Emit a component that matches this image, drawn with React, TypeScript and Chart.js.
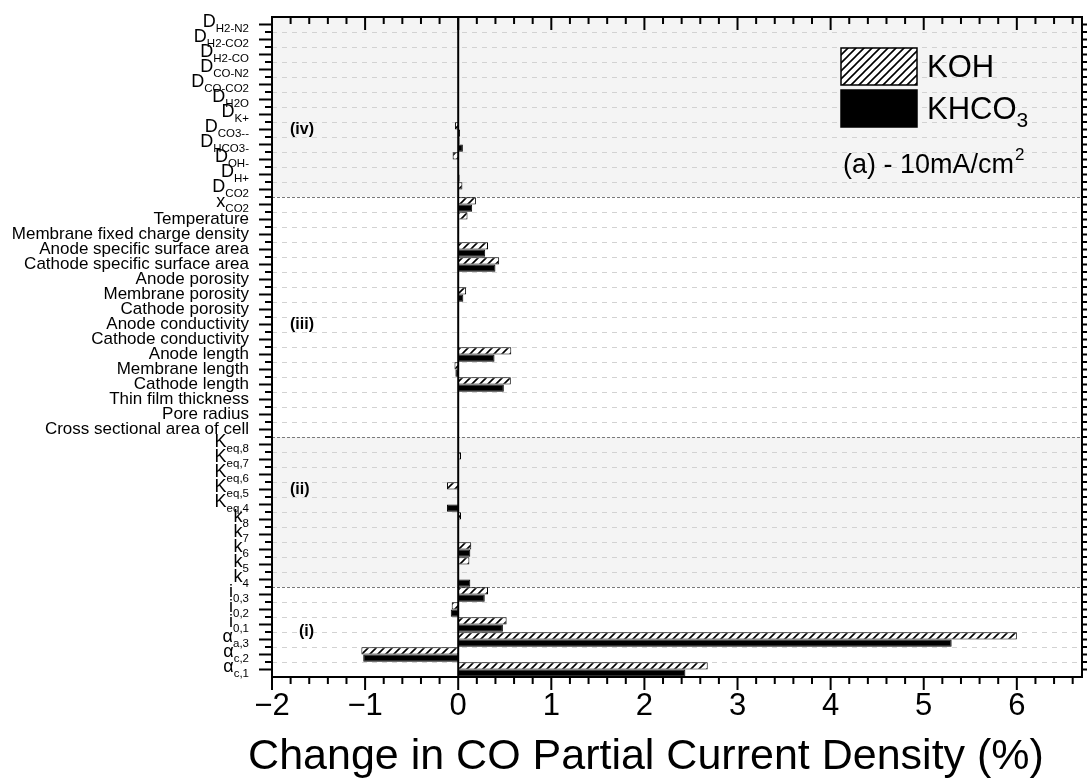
import React, { useEffect, useRef } from "react";
import { Chart, registerables } from "chart.js";
Chart.register(...registerables);

const FAMILY = '"Liberation Sans", Arial, Helvetica, sans-serif';

// Category labels (text after "_" is drawn as subscript)
const categories: string[] = [
  "D_H2-N2", "D_H2-CO2", "D_H2-CO", "D_CO-N2", "D_CO-CO2", "D_H2O", "D_K+", "D_CO3--", "D_HCO3-", "D_OH-", "D_H+", "D_CO2",
  "x_CO2", "Temperature", "Membrane fixed charge density", "Anode specific surface area", "Cathode specific surface area",
  "Anode porosity", "Membrane porosity", "Cathode porosity", "Anode conductivity", "Cathode conductivity",
  "Anode length", "Membrane length", "Cathode length", "Thin film thickness", "Pore radius", "Cross sectional area of cell",
  "K_eq,8", "K_eq,7", "K_eq,6", "K_eq,5", "K_eq,4", "k_8", "k_7", "k_6", "k_5", "k_4",
  "i_0,3", "i_0,2", "i_0,1", "α_a,3", "α_c,2", "α_c,1",
];

const kohValues: number[] = [
  0, 0, 0, 0, 0, 0, 0, -0.035, 0.015, -0.06, 0.01, 0.045,
  0.19, 0.10, 0.01, 0.32, 0.44, 0, 0.085, 0, 0, 0, 0.57, -0.04, 0.565, 0, 0, 0,
  0, 0.03, 0, -0.12, 0, 0.03, 0, 0.14, 0.12, 0,
  0.32, -0.07, 0.52, 6.0, -1.04, 2.68,
];

const khco3Values: number[] = [
  0, 0, 0, 0, 0, 0, 0, 0.02, 0.05, 0, 0.015, 0,
  0.15, 0, 0, 0.29, 0.40, 0, 0.055, 0, 0, 0, 0.39, -0.03, 0.49, 0, 0, 0,
  0, 0, 0, 0, -0.12, 0, 0, 0.13, 0, 0.13,
  0.285, -0.08, 0.48, 5.3, -1.02, 2.44,
];

const sectionNames: string[] = ["(iv)", "(iii)", "(ii)", "(i)"];
const sectionSizes: number[] = [12, 16, 10, 6];
const sectionShaded: boolean[] = [true, false, true, false];
const sectionLabelAt: number[] = [7, 20, 31, 40.5];

const seriesNames: string[] = ["KOH", "KHCO_3"];
const annotationText = "(a) - 10mA/cm";
const annotationSup = "2";
const xTitle = "Change in CO Partial Current Density (%)";
const xMin = -2;
const xMax = 6.7;

function makeHatch(ctx: CanvasRenderingContext2D): CanvasPattern | string {
  const c = document.createElement("canvas");
  c.width = 8;
  c.height = 8;
  const g = c.getContext("2d");
  if (!g) return "#fff";
  g.fillStyle = "#fff";
  g.fillRect(0, 0, 8, 8);
  g.strokeStyle = "#000";
  g.lineWidth = 1.6;
  g.beginPath();
  g.moveTo(-2, 10); g.lineTo(10, -2);
  g.moveTo(-2, 2); g.lineTo(2, -2);
  g.moveTo(6, 10); g.lineTo(10, 6);
  g.stroke();
  return ctx.createPattern(c, "repeat") || "#fff";
}

function drawSubLabel(ctx: CanvasRenderingContext2D, text: string, xRight: number, y: number, mainSize: number, subSize: number) {
  const k = text.indexOf("_");
  ctx.textAlign = "right";
  ctx.textBaseline = "middle";
  if (k < 0) {
    ctx.font = `${mainSize}px ${FAMILY}`;
    ctx.fillText(text, xRight, y);
    return;
  }
  const main = text.slice(0, k);
  const sub = text.slice(k + 1);
  ctx.font = `${subSize}px ${FAMILY}`;
  const w = ctx.measureText(sub).width;
  ctx.fillText(sub, xRight, y + 4);
  ctx.font = `${mainSize + 1}px ${FAMILY}`;
  ctx.fillText(main, xRight - w, y - 2);
}

export default function App() {
  const ref = useRef<HTMLCanvasElement>(null);
  useEffect(() => {
    document.body.style.margin = "0";
    const canvas = ref.current!;
    const ctx0 = canvas.getContext("2d")!;
    const hatch = makeHatch(ctx0);

    const decor = {
      id: "decor",
      beforeDatasetsDraw(chart: any) {
        const ctx: CanvasRenderingContext2D = chart.ctx;
        const a = chart.chartArea;
        const ys = chart.scales.y;
        const band = ys.getPixelForValue(1) - ys.getPixelForValue(0);
        ctx.save();
        let start = 0;
        const boundaries: number[] = [];
        sectionSizes.forEach((n, si) => {
          const top = ys.getPixelForValue(start) - band / 2;
          const bot = ys.getPixelForValue(start + n - 1) + band / 2;
          if (sectionShaded[si]) {
            ctx.fillStyle = "#f4f4f4";
            ctx.fillRect(a.left, top, a.right - a.left, bot - top);
          }
          start += n;
          boundaries.push(start);
        });
        for (let i = 1; i < categories.length; i++) {
          const yy = Math.round(ys.getPixelForValue(i) - band / 2) + 0.5;
          const isDiv = boundaries.includes(i);
          ctx.beginPath();
          ctx.setLineDash(isDiv ? [3, 2] : [5, 5]);
          ctx.strokeStyle = isDiv ? "#7a7a7a" : "#d2d2d2";
          ctx.lineWidth = 1;
          ctx.moveTo(a.left, yy);
          ctx.lineTo(a.right, yy);
          ctx.stroke();
        }
        ctx.restore();
      },
      afterDatasetsDraw(chart: any) {
        const ctx: CanvasRenderingContext2D = chart.ctx;
        const a = chart.chartArea;
        const ys = chart.scales.y;
        const xs = chart.scales.x;
        const band = ys.getPixelForValue(1) - ys.getPixelForValue(0);
        ctx.save();
        ctx.setLineDash([]);
        ctx.strokeStyle = "#000";
        ctx.fillStyle = "#000";

        // zero line
        const x0 = xs.getPixelForValue(0);
        ctx.lineWidth = 2;
        ctx.beginPath();
        ctx.moveTo(x0, a.top);
        ctx.lineTo(x0, a.bottom);
        ctx.stroke();

        // frame
        ctx.lineWidth = 2;
        ctx.strokeRect(a.left, a.top, a.right - a.left, a.bottom - a.top);

        // y ticks (outward on both sides)
        ctx.lineWidth = 2;
        ctx.beginPath();
        for (let i = 0; i < categories.length; i++) {
          const yc = ys.getPixelForValue(i);
          ctx.moveTo(a.left - 13, yc); ctx.lineTo(a.left, yc);
          ctx.moveTo(a.right, yc); ctx.lineTo(a.right + 13, yc);
          if (i > 0) {
            const yb = yc - band / 2;
            ctx.moveTo(a.left - 7, yb); ctx.lineTo(a.left, yb);
            ctx.moveTo(a.right, yb); ctx.lineTo(a.right + 7, yb);
          }
        }
        // x ticks: bottom outward, top inward
        for (let k = 0; k * 0.2 + xMin <= xMax + 1e-9; k++) {
          const v = xMin + k * 0.2;
          const px = xs.getPixelForValue(v);
          const major = k % 5 === 0;
          const len = major ? 13 : 7;
          ctx.moveTo(px, a.bottom); ctx.lineTo(px, a.bottom + len);
          ctx.moveTo(px, a.top); ctx.lineTo(px, a.top + len);
        }
        ctx.stroke();

        // y labels
        for (let i = 0; i < categories.length; i++) {
          drawSubLabel(ctx, categories[i], 249, ys.getPixelForValue(i), 17, 11.5);
        }

        // section labels
        ctx.font = `bold 16px ${FAMILY}`;
        ctx.textAlign = "left";
        ctx.textBaseline = "middle";
        sectionNames.forEach((s, si) => {
          const yy = ys.getPixelForValue(sectionLabelAt[si]);
          ctx.fillText(s, s === "(i)" ? 299 : 290, yy);
        });

        // legend
        const lx = 841, lw = 76, lh = 37;
        const ly = [48, 90];
        ctx.lineWidth = 1.5;
        ctx.fillStyle = hatch as any;
        ctx.fillRect(lx, ly[0], lw, lh);
        ctx.strokeRect(lx, ly[0], lw, lh);
        ctx.fillStyle = "#000";
        ctx.fillRect(lx, ly[1], lw, lh);
        ctx.strokeRect(lx, ly[1], lw, lh);
        ctx.textAlign = "left";
        ctx.textBaseline = "alphabetic";
        seriesNames.forEach((s, si) => {
          const k = s.indexOf("_");
          const main = k < 0 ? s : s.slice(0, k);
          const sub = k < 0 ? "" : s.slice(k + 1);
          ctx.font = `31px ${FAMILY}`;
          const base = ly[si] + 29;
          ctx.fillText(main, 927, base);
          if (sub) {
            const w = ctx.measureText(main).width;
            ctx.font = `21px ${FAMILY}`;
            ctx.fillText(sub, 927 + w, base + 8);
          }
        });
        ctx.font = `27px ${FAMILY}`;
        ctx.fillText(annotationText, 843, 173);
        const aw = ctx.measureText(annotationText).width;
        ctx.font = `17px ${FAMILY}`;
        ctx.fillText(annotationSup, 843 + aw + 1, 160);

        // x axis title
        ctx.font = `43px ${FAMILY}`;
        ctx.textAlign = "center";
        ctx.textBaseline = "alphabetic";
        ctx.fillText(xTitle, 646, 769);
        ctx.restore();
      },
    };

    const chart = new Chart(canvas, {
      type: "bar",
      data: {
        labels: categories,
        datasets: [
          { label: "KOH", data: kohValues, backgroundColor: hatch as any, borderColor: "#000", borderWidth: 1, categoryPercentage: 0.96, barPercentage: 1 },
          { label: "KHCO3", data: khco3Values, backgroundColor: "#000", borderColor: "#000", borderWidth: 1, categoryPercentage: 0.96, barPercentage: 1 },
        ],
      },
      options: {
        indexAxis: "y",
        responsive: false,
        animation: false,
        layout: { padding: { top: 17, right: 5, left: 0, bottom: 0 } },
        plugins: { legend: { display: false }, tooltip: { enabled: false } },
        scales: {
          y: {
            type: "category",
            offset: true,
            grid: { display: false },
            border: { display: false },
            ticks: { display: false },
            afterFit: (s: any) => { s.width = 272; },
          },
          x: {
            type: "linear",
            min: xMin,
            max: xMax,
            grid: { display: false },
            border: { display: false },
            ticks: {
              stepSize: 1,
              includeBounds: false,
              autoSkip: false,
              maxRotation: 0,
              padding: 3,
              color: "#000",
              font: { size: 31, family: FAMILY },
              callback: (v: any) => {
                const n = Number(v);
                if (!Number.isInteger(n)) return "";
                return n < 0 ? "\u2212" + Math.abs(n) : String(n);
              },
            },
            afterFit: (s: any) => { s.height = 102; },
          },
        },
      } as any,
      plugins: [decor],
    });
    return () => chart.destroy();
  }, []);
  return (
    <div style={{ width: 1087, height: 779 }}>
      <canvas ref={ref} width={1087} height={779} style={{ display: "block" }} />
    </div>
  );
}
